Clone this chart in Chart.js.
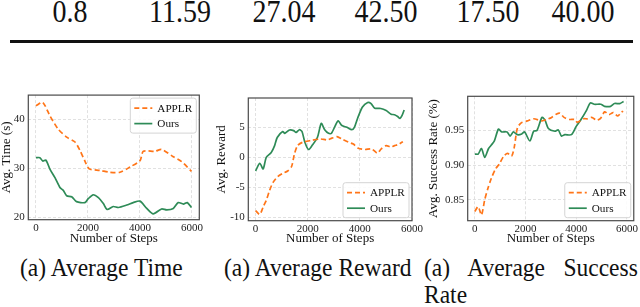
<!DOCTYPE html>
<html>
<head>
<meta charset="utf-8">
<script src="https://cdn.jsdelivr.net/npm/chart.js@4"></script>
<style>
  html, body { margin: 0; padding: 0; background: #fff; }
  body { width: 640px; height: 307px; position: relative; overflow: hidden; color: #111; }
  .cell, .cap { font-family: "Liberation Serif", "Times New Roman", Times, serif; }
  .cell { position: absolute; top: -1px; font-size: 28px; line-height: 1; transform-origin: 50% 23.5px; transform: translateX(-50%) scaleY(1.1); white-space: nowrap; }
  .rule { position: absolute; left: 10px; top: 40px; width: 623px; height: 3px; background: #111; }
  .cap { position: absolute; font-size: 23.5px; line-height: 27px; white-space: nowrap; transform-origin: 0 21.5px; transform: scaleY(1.05); }
  canvas { position: absolute; }
</style>
</head>
<body>
<div class="rule"></div>
<canvas id="timeChart" width="215" height="165" style="left:0;top:85px"></canvas>
<canvas id="rewardChart" width="210" height="165" style="left:215px;top:85px"></canvas>
<canvas id="successChart" width="215" height="165" style="left:425px;top:85px"></canvas>
<div class="cap" style="left:20px;top:255px">(a) Average Time</div>
<div class="cap" style="left:224px;top:255px">(a) Average Reward</div>
<div class="cap" style="left:424px;top:255px;word-spacing:12.5px">(a) Average Success</div>
<div class="cap" style="left:424px;top:282px">Rate</div>
<script>
// table row above the figures
const tableValues = ['0.8', '11.59', '27.04', '42.50', '17.50', '40.00'];
const tableCenters = [70, 180, 284, 386, 488, 583];

// shared x ticks
const stepTicks = [0, 2000, 4000, 6000];

// Avg. Time (s)
const timeTicks = [20, 30, 40];
const timeApplrSteps = [0, 260, 540, 860, 1180, 1500, 1690, 1890, 2050, 2460, 2850, 3230, 3620, 4000, 4130, 4580, 4830, 5280, 5600, 5980];
const timeApplr = [42.8, 43.5, 40.7, 38.0, 36.4, 35.4, 33.7, 31.4, 29.9, 29.6, 29.2, 29.2, 30.3, 31.6, 33.5, 33.5, 33.9, 32.4, 31.4, 29.4];
const timeOursSteps = [0, 150, 260, 380, 540, 730, 920, 1050, 1180, 1370, 1560, 1880, 2010, 2200, 2400, 2590, 2740, 2970, 3170, 3490, 3740, 4000, 4260, 4510, 4830, 5030, 5280, 5470, 5670, 5820, 5980];
const timeOurs = [32.2, 32.2, 31.5, 31.7, 29.8, 28.1, 26.1, 25.5, 24.4, 24.2, 23.2, 23.0, 23.8, 24.6, 24.0, 22.8, 21.6, 22.2, 22.0, 22.5, 23.0, 23.3, 21.8, 20.7, 21.7, 21.5, 21.8, 23.0, 22.7, 23.0, 22.0];

// Avg. Reward
const rewardTicks = [-10, -5, 0, 5];
const rewardApplrSteps = [0, 160, 290, 410, 540, 670, 860, 1040, 1230, 1380, 1490, 1610, 1800, 2120, 2490, 2750, 2930, 3120, 3310, 3570, 3750, 3940, 4200, 4450, 4670, 4820, 5010, 5180, 5330, 5460, 5650];
const rewardApplr = [-8.9, -9.55, -8.3, -7.2, -5.5, -4.2, -3.2, -2.7, -2.3, -1.55, 0.55, 1.95, 2.5, 2.8, 3.05, 2.9, 3.2, 3.45, 3.05, 2.5, 2.2, 1.5, 1.3, 1.4, 0.7, 1.4, 1.95, 1.7, 1.95, 2.1, 2.6];
const rewardOursSteps = [0, 160, 290, 410, 600, 730, 830, 1040, 1120, 1300, 1460, 1550, 1680, 1780, 1890, 2030, 2180, 2370, 2520, 2650, 2800, 2910, 3160, 3310, 3500, 3690, 3790, 3920, 4100, 4300, 4420, 4570, 4800, 5010, 5200, 5330, 5450, 5540, 5620, 5700];
const rewardOurs = [-2.3, -1.0, -1.95, 0, 0.8, 1.95, 3.3, 4.3, 4.0, 4.55, 4.45, 4.15, 4.6, 4.3, 2.5, 1.3, 2.05, 3.3, 5.65, 4.6, 4.0, 4.0, 6.05, 5.3, 5.0, 4.6, 5.0, 6.6, 8.4, 9.15, 9.0, 8.2, 8.15, 7.8, 7.2, 7.1, 6.8, 6.5, 7.0, 7.9];

// Avg. Success Rate (%)
const successTicks = [0.85, 0.90, 0.95];
const successApplrSteps = [0, 130, 260, 390, 520, 650, 810, 970, 1140, 1290, 1450, 1550, 1680, 1830, 2070, 2320, 2650, 2840, 3030, 3230, 3360, 3520, 3740, 3940, 4040, 4300, 4450, 4610, 4810, 4970, 5120, 5290, 5460, 5640, 5770, 5850];
const successApplr = [0.833, 0.840, 0.828, 0.850, 0.867, 0.881, 0.894, 0.902, 0.913, 0.917, 0.913, 0.925, 0.954, 0.961, 0.964, 0.967, 0.964, 0.966, 0.969, 0.974, 0.975, 0.969, 0.966, 0.966, 0.962, 0.967, 0.967, 0.969, 0.965, 0.968, 0.977, 0.973, 0.976, 0.971, 0.976, 0.978];
const successOursSteps = [0, 130, 260, 390, 540, 650, 770, 930, 1060, 1270, 1390, 1520, 1680, 1850, 1960, 2170, 2320, 2450, 2650, 2770, 2900, 3160, 3290, 3420, 3550, 3810, 4000, 4190, 4390, 4560, 4710, 4970, 5120, 5360, 5510, 5720, 5870];
const successOurs = [0.916, 0.916, 0.924, 0.911, 0.924, 0.929, 0.935, 0.952, 0.948, 0.948, 0.942, 0.948, 0.944, 0.945, 0.948, 0.935, 0.949, 0.950, 0.969, 0.965, 0.953, 0.949, 0.951, 0.942, 0.944, 0.944, 0.956, 0.966, 0.978, 0.990, 0.988, 0.988, 0.985, 0.985, 0.989, 0.989, 0.992];

const ORANGE = '#ff7518';
const GREEN = '#2e8b57';
const FONT = '"Liberation Serif", "Times New Roman", serif';

tableValues.forEach((v, i) => {
    const d = document.createElement('div');
    d.className = 'cell';
    d.style.left = tableCenters[i] + 'px';
    d.textContent = v;
    document.body.appendChild(d);
});

const toPoints = (xs, ys) => xs.map((x, i) => ({ x: x, y: ys[i] }));

const framePlugin = {
    id: 'frame',
    afterDatasetsDraw(chart) {
        const { ctx, chartArea: a } = chart;
        ctx.save();
        ctx.strokeStyle = '#4a4a4a';
        ctx.lineWidth = 1.2;
        ctx.strokeRect(a.left, a.top, a.right - a.left, a.bottom - a.top);
        ctx.restore();
    }
};

function boxLegend(corner) {
    return {
        id: 'boxLegend',
        afterDraw(chart) {
            const { ctx, chartArea: a } = chart;
            const w = 66, h = 35, inset = 3;
            const x0 = a.right - inset - w;
            const y0 = corner === 'top' ? a.top + inset : a.bottom - inset - h;
            ctx.save();
            ctx.beginPath();
            ctx.roundRect(x0, y0, w, h, 2.5);
            ctx.fillStyle = 'rgba(255,255,255,0.85)';
            ctx.fill();
            ctx.strokeStyle = '#d4d4d4';
            ctx.lineWidth = 1;
            ctx.stroke();
            chart.data.datasets.forEach((ds, i) => {
                const y = y0 + 10 + i * 15.5;
                ctx.beginPath();
                ctx.setLineDash(ds.borderDash || []);
                ctx.strokeStyle = ds.borderColor;
                ctx.lineWidth = ds.borderWidth;
                ctx.moveTo(x0 + 4, y);
                ctx.lineTo(x0 + 22, y);
                ctx.stroke();
                ctx.setLineDash([]);
                ctx.fillStyle = '#111';
                ctx.font = '11.2px ' + FONT;
                ctx.textBaseline = 'middle';
                ctx.fillText(ds.label, x0 + 27, y + 0.5);
            });
            ctx.restore();
        }
    };
}

function makeChart(id, cfg) {
    const tickFont = { family: FONT, size: 11 };
    const titleFont = { family: FONT, size: 13, lineHeight: 1 };
    const grid = { color: '#d9d9d9', lineWidth: 0.8, drawTicks: false };
    return new Chart(document.getElementById(id), {
        type: 'line',
        data: {
            datasets: [
                { label: 'APPLR', data: toPoints(cfg.applrSteps, cfg.applr), borderColor: ORANGE, borderDash: [5, 3], borderWidth: 1.7, pointRadius: 0, tension: 0.25, fill: false },
                { label: 'Ours', data: toPoints(cfg.oursSteps, cfg.ours), borderColor: GREEN, borderWidth: 1.7, pointRadius: 0, tension: 0.25, fill: false }
            ]
        },
        options: {
            responsive: false,
            animation: false,
            devicePixelRatio: 1,
            layout: { padding: cfg.padding },
            plugins: { legend: { display: false }, tooltip: { enabled: false } },
            scales: {
                x: {
                    type: 'linear', min: cfg.xMin, max: cfg.xMax,
                    afterBuildTicks: s => { s.ticks = stepTicks.map(v => ({ value: v })); },
                    afterFit: s => { s.height = cfg.xAxisHeight; },
                    ticks: { autoSkip: false, maxRotation: 0, padding: 2, color: '#222', font: tickFont, callback: v => String(v) },
                    grid: grid,
                    border: { display: false, dash: [3, 2] },
                    title: { display: true, text: 'Number of Steps', color: '#111', font: titleFont, padding: { top: 0, bottom: 4.5 } }
                },
                y: {
                    min: cfg.yMin, max: cfg.yMax,
                    afterBuildTicks: s => { s.ticks = cfg.yTicks.map(v => ({ value: v })); },
                    afterFit: s => { s.width = cfg.yAxisWidth; },
                    ticks: { autoSkip: false, padding: 3.5, color: '#222', font: tickFont, callback: cfg.yFormat },
                    grid: grid,
                    border: { display: false, dash: [3, 2] },
                    title: { display: true, text: cfg.yTitle, color: '#111', font: titleFont, padding: { top: cfg.yTitlePad, bottom: 0 } }
                }
            }
        },
        plugins: [framePlugin, boxLegend(cfg.legendCorner)]
    });
}

makeChart('timeChart', {
    applrSteps: timeApplrSteps, applr: timeApplr, oursSteps: timeOursSteps, ours: timeOurs,
    xMin: -296, xMax: 6281, yMin: 19.5, yMax: 45, yTicks: timeTicks, yFormat: v => String(v),
    yTitle: 'Avg. Time (s)', yTitlePad: 0.2,
    padding: { left: 0, top: 6.3, right: 15.7, bottom: 0 }, yAxisWidth: 28.3, xAxisHeight: 30.3,
    legendCorner: 'top'
});

makeChart('rewardChart', {
    applrSteps: rewardApplrSteps, applr: rewardApplr, oursSteps: rewardOursSteps, ours: rewardOurs,
    xMin: -280, xMax: 6000, yMin: -10.6, yMax: 9.9, yTicks: rewardTicks, yFormat: v => String(v),
    yTitle: 'Avg. Reward', yTitlePad: 0.2,
    padding: { left: 0, top: 13, right: 10.7, bottom: 0 }, yAxisWidth: 33.3, xAxisHeight: 29.3,
    legendCorner: 'bottom'
});

makeChart('successChart', {
    applrSteps: successApplrSteps, applr: successApplr, oursSteps: successOursSteps, ours: successOurs,
    xMin: -283, xMax: 6272, yMin: 0.8196, yMax: 0.9995, yTicks: successTicks, yFormat: v => v.toFixed(2),
    yTitle: 'Avg. Success Rate (%)', yTitlePad: 1.8,
    padding: { left: 0, top: 11.3, right: 3, bottom: 0 }, yAxisWidth: 42.7, xAxisHeight: 29.3,
    legendCorner: 'bottom'
});
</script>
</body>
</html>
